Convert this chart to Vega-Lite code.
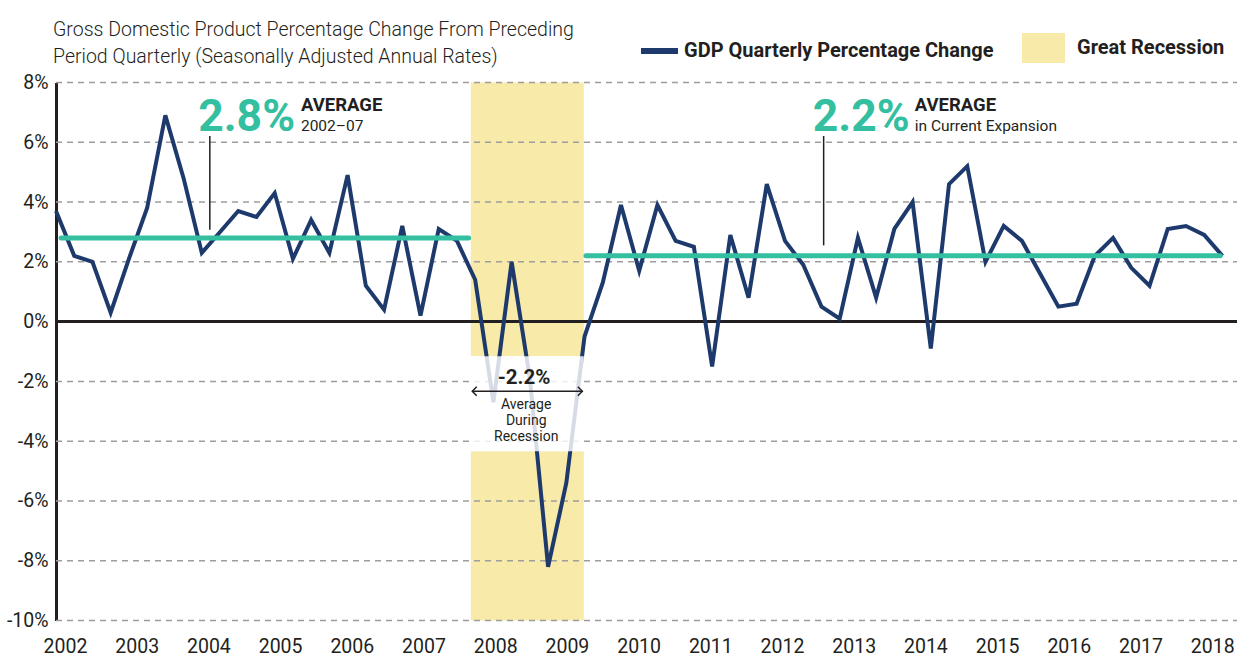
{
  "$schema": "https://vega.github.io/schema/vega-lite/v6.json",
  "width": 1181,
  "height": 538,
  "autosize": {"type": "none"},
  "padding": {"left": 56, "top": 82.5, "right": 0, "bottom": 38.5},
  "background": "white",
  "config": {
    "view": {"stroke": null},
    "font": "Roboto",
    "text": {"font": "Roboto", "color": "#231f20"}
  },
  "title": {
    "text": ["Gross Domestic Product Percentage Change From Preceding", "Period Quarterly (Seasonally Adjusted Annual Rates)"],
    "anchor": "start",
    "frame": "group",
    "orient": "top",
    "baseline": "alphabetic",
    "offset": 0,
    "dy": 56,
    "dx": -3,
    "lineHeight": 27,
    "font": "Roboto",
    "fontSize": 19.5,
    "fontWeight": 300,
    "color": "#231f20"
  },
  "datasets": {
    "gdp": [
      {"t": 2002.0, "v": 3.7}, {"t": 2002.25, "v": 2.2}, {"t": 2002.5, "v": 2.0}, {"t": 2002.75, "v": 0.3},
      {"t": 2003.0, "v": 2.1}, {"t": 2003.25, "v": 3.8}, {"t": 2003.5, "v": 6.9}, {"t": 2003.75, "v": 4.8},
      {"t": 2004.0, "v": 2.3}, {"t": 2004.25, "v": 3.0}, {"t": 2004.5, "v": 3.7}, {"t": 2004.75, "v": 3.5},
      {"t": 2005.0, "v": 4.3}, {"t": 2005.25, "v": 2.1}, {"t": 2005.5, "v": 3.4}, {"t": 2005.75, "v": 2.3},
      {"t": 2006.0, "v": 4.9}, {"t": 2006.25, "v": 1.2}, {"t": 2006.5, "v": 0.4}, {"t": 2006.75, "v": 3.2},
      {"t": 2007.0, "v": 0.2}, {"t": 2007.25, "v": 3.1}, {"t": 2007.5, "v": 2.7}, {"t": 2007.75, "v": 1.4},
      {"t": 2008.0, "v": -2.7}, {"t": 2008.25, "v": 2.0}, {"t": 2008.5, "v": -1.9}, {"t": 2008.75, "v": -8.2},
      {"t": 2009.0, "v": -5.4}, {"t": 2009.25, "v": -0.5}, {"t": 2009.5, "v": 1.3}, {"t": 2009.75, "v": 3.9},
      {"t": 2010.0, "v": 1.7}, {"t": 2010.25, "v": 3.9}, {"t": 2010.5, "v": 2.7}, {"t": 2010.75, "v": 2.5},
      {"t": 2011.0, "v": -1.5}, {"t": 2011.25, "v": 2.9}, {"t": 2011.5, "v": 0.8}, {"t": 2011.75, "v": 4.6},
      {"t": 2012.0, "v": 2.7}, {"t": 2012.25, "v": 1.9}, {"t": 2012.5, "v": 0.5}, {"t": 2012.75, "v": 0.1},
      {"t": 2013.0, "v": 2.8}, {"t": 2013.25, "v": 0.8}, {"t": 2013.5, "v": 3.1}, {"t": 2013.75, "v": 4.0},
      {"t": 2014.0, "v": -0.9}, {"t": 2014.25, "v": 4.6}, {"t": 2014.5, "v": 5.2}, {"t": 2014.75, "v": 2.0},
      {"t": 2015.0, "v": 3.2}, {"t": 2015.25, "v": 2.7}, {"t": 2015.5, "v": 1.6}, {"t": 2015.75, "v": 0.5},
      {"t": 2016.0, "v": 0.6}, {"t": 2016.25, "v": 2.2}, {"t": 2016.5, "v": 2.8}, {"t": 2016.75, "v": 1.8},
      {"t": 2017.0, "v": 1.2}, {"t": 2017.25, "v": 3.1}, {"t": 2017.5, "v": 3.2}, {"t": 2017.75, "v": 2.9},
      {"t": 2018.0, "v": 2.2}
    ],
    "band": [
      {"t": 2007.69, "t2": 2009.24, "v": 8, "v2": -1.16},
      {"t": 2007.69, "t2": 2009.24, "v": -4.34, "v2": -10}
    ],
    "box": [{"t": 2007.69, "t2": 2009.24, "v": -1.16, "v2": -4.34}],
    "grid": [
      {"t": 2002, "t2": 2018.2, "v": -10}, {"t": 2002, "t2": 2018.2, "v": -8},
      {"t": 2002, "t2": 2018.2, "v": -6}, {"t": 2002, "t2": 2018.2, "v": -4},
      {"t": 2002, "t2": 2018.2, "v": -2}, {"t": 2002, "t2": 2018.2, "v": 2},
      {"t": 2002, "t2": 2018.2, "v": 4}, {"t": 2002, "t2": 2018.2, "v": 6},
      {"t": 2002, "t2": 2018.2, "v": 8}
    ],
    "zero": [{"t": 2002, "t2": 2018.2, "v": 0}],
    "avg": [
      {"t": 2002.07, "t2": 2007.66, "v": 2.8},
      {"t": 2009.27, "t2": 2017.97, "v": 2.2}
    ],
    "leaders": [
      {"t": 2004.11, "v": 6.21, "v2": 3.07},
      {"t": 2012.53, "v": 6.21, "v2": 2.55}
    ],
    "big": [
      {"t": 2003.95, "v": 6.39, "label": "2.8%"},
      {"t": 2012.38, "v": 6.39, "label": "2.2%"}
    ],
    "avgword": [
      {"t": 2005.36, "v": 7.06, "label": "AVERAGE"},
      {"t": 2013.78, "v": 7.06, "label": "AVERAGE"}
    ],
    "sub": [
      {"t": 2005.36, "v": 6.39, "label": "2002–07"},
      {"t": 2013.78, "v": 6.39, "label": "in Current Expansion"}
    ],
    "reclabel": [{"t": 2008.42, "v": -2.1, "label": "-2.2%"}],
    "rectext": [
      {"t": 2008.45, "v": -2.93, "label": "Average"},
      {"t": 2008.45, "v": -3.47, "label": "During"},
      {"t": 2008.45, "v": -4.01, "label": "Recession"}
    ],
    "arrow": [{"t": 2007.71, "t2": 2009.22, "v": -2.33}],
    "heads": [
      {"t": 2007.71, "v": -2.33, "dir": "left"},
      {"t": 2009.22, "v": -2.33, "dir": "right"}
    ]
  },
  "encoding": {
    "x": {
      "field": "t", "type": "quantitative", "title": null,
      "scale": {"domain": [2002, 2018.2], "nice": false, "zero": false},
      "axis": {
        "values": [2002, 2003, 2004, 2005, 2006, 2007, 2008, 2009, 2010, 2011, 2012, 2013, 2014, 2015, 2016, 2017, 2018],
        "format": "d", "grid": false, "ticks": false, "domain": false,
        "labelFont": "Roboto", "labelFontSize": 19.5, "labelColor": "#231f20",
        "labelPadding": 17, "labelFlush": false, "labelOverlap": false,
        "labelOffset": {"expr": "9 - 1.2 * (datum.value - 2002)"}
      }
    },
    "y": {
      "field": "v", "type": "quantitative", "title": null,
      "scale": {"domain": [-10, 8], "nice": false, "zero": false},
      "axis": {
        "values": [-10, -8, -6, -4, -2, 0, 2, 4, 6, 8],
        "labelExpr": "datum.value + '%'", "grid": false, "ticks": false,
        "domain": true, "domainColor": "#231f20", "domainWidth": 3,
        "labelFont": "Roboto", "labelFontSize": 19.5, "labelColor": "#231f20",
        "labelPadding": 8
      }
    }
  },
  "layer": [
    {
      "data": {"name": "band"},
      "mark": {"type": "rect"},
      "encoding": {
        "x2": {"field": "t2"},
        "y2": {"field": "v2"},
        "fill": {
          "datum": "Great Recession",
          "scale": {"range": ["#f8eaa9"]},
          "legend": {
            "orient": "none", "legendX": 966, "legendY": -56, "title": null, "padding": 0,
            "symbolType": "M-1,-0.7H1V0.7H-1Z", "symbolSize": 1849, "symbolStrokeWidth": 0, "symbolOpacity": 1,
            "labelFont": "Roboto", "labelFontWeight": "bold", "labelFontSize": 20,
            "labelColor": "#231f20", "labelOffset": 12, "labelLimit": 400
          }
        }
      }
    },
    {
      "data": {"name": "grid"},
      "mark": {"type": "rule", "stroke": "#9d9d9d", "strokeWidth": 1.5, "strokeDash": [6, 5]},
      "encoding": {"x2": {"field": "t2"}}
    },
    {
      "data": {"name": "zero"},
      "mark": {"type": "rule", "stroke": "#231f20", "strokeWidth": 3},
      "encoding": {"x2": {"field": "t2"}}
    },
    {
      "data": {"name": "gdp"},
      "mark": {"type": "line", "strokeWidth": 4, "strokeJoin": "miter"},
      "encoding": {
        "stroke": {
          "datum": "GDP Quarterly Percentage Change",
          "scale": {"range": ["#1e3a6d"]},
          "legend": {
            "orient": "none", "legendX": 582, "legendY": -53, "title": null, "padding": 0,
            "symbolType": "stroke", "symbolSize": 1369, "symbolStrokeWidth": 6,
            "labelFont": "Roboto", "labelFontWeight": "bold", "labelFontSize": 20,
            "labelColor": "#231f20", "labelOffset": 3, "labelLimit": 500
          }
        }
      }
    },
    {
      "data": {"name": "box"},
      "mark": {"type": "rect", "fill": "white", "opacity": 0.82},
      "encoding": {"x2": {"field": "t2"}, "y2": {"field": "v2"}}
    },
    {
      "data": {"name": "avg"},
      "mark": {"type": "rule", "stroke": "#33bfa0", "strokeWidth": 5, "strokeCap": "round"},
      "encoding": {"x2": {"field": "t2"}}
    },
    {
      "data": {"name": "leaders"},
      "mark": {"type": "rule", "stroke": "#231f20", "strokeWidth": 1.5},
      "encoding": {"y2": {"field": "v2"}}
    },
    {
      "data": {"name": "big"},
      "mark": {"type": "text", "align": "left", "baseline": "alphabetic", "fontSize": 44.5, "fontWeight": "bold", "color": "#33bfa0"},
      "encoding": {"text": {"field": "label"}}
    },
    {
      "data": {"name": "avgword"},
      "mark": {"type": "text", "align": "left", "baseline": "alphabetic", "fontSize": 18.5, "fontWeight": "bold", "color": "#231f20"},
      "encoding": {"text": {"field": "label"}}
    },
    {
      "data": {"name": "sub"},
      "mark": {"type": "text", "align": "left", "baseline": "alphabetic", "fontSize": 15.5, "color": "#231f20"},
      "encoding": {"text": {"field": "label"}}
    },
    {
      "data": {"name": "reclabel"},
      "mark": {"type": "text", "align": "center", "baseline": "alphabetic", "fontSize": 20.5, "fontWeight": "bold", "color": "#231f20"},
      "encoding": {"text": {"field": "label"}}
    },
    {
      "data": {"name": "rectext"},
      "mark": {"type": "text", "align": "center", "baseline": "alphabetic", "fontSize": 14, "color": "#231f20"},
      "encoding": {"text": {"field": "label"}}
    },
    {
      "data": {"name": "arrow"},
      "mark": {"type": "rule", "stroke": "#231f20", "strokeWidth": 1.5},
      "encoding": {"x2": {"field": "t2"}}
    },
    {
      "data": {"name": "heads"},
      "mark": {"type": "point", "filled": false, "size": 80, "strokeWidth": 1.5, "stroke": "#231f20", "opacity": 1},
      "encoding": {
        "shape": {
          "field": "dir", "type": "nominal",
          "scale": {"domain": ["left", "right"], "range": ["M1,-1L0,0L1,1", "M-1,-1L0,0L-1,1"]},
          "legend": null
        }
      }
    }
  ]
}
